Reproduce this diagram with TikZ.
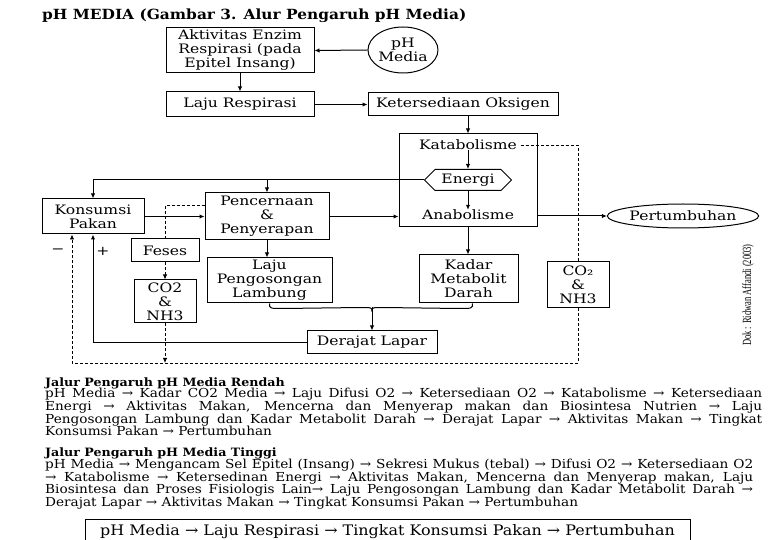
\documentclass[tikz,border=0pt]{standalone}
\usepackage{fontspec}
\setmainfont{DejaVu Serif}[FakeStretch=1.1]
\newfontfamily\boxfont{DejaVu Serif}[FakeStretch=1.2]
\newfontfamily\dokfont{Liberation Serif}[FakeStretch=0.68]
\usetikzlibrary{arrows.meta,shapes.geometric,shapes.symbols,calc}
\newcommand\jl[2]{\makebox[#1][s]{#2}}
\tikzset{
  box/.style={draw, line width=1pt, fill=white, align=center, inner sep=0pt,
    font=\boxfont\fontsize{13}{14}\selectfont},
  plain/.style={inner sep=0pt, align=center, font=\boxfont\fontsize{13}{14}\selectfont},
  arr/.style={line width=1pt, -{Latex[length=5pt,width=4.5pt]}},
  ln/.style={line width=1pt},
  dsh/.style={line width=0.8pt, dash pattern=on 3pt off 2pt},
  dsharr/.style={dsh, -{Latex[length=5pt,width=4.5pt]}},
  para/.style={anchor=base west, inner sep=0pt, font=\fontsize{12.4}{12.5}\selectfont},
  parahead/.style={anchor=base west, inner sep=0pt, font=\bfseries\fontsize{11.5}{12.5}\selectfont}
}
\begin{document}
\begin{tikzpicture}[x=1pt,y=-1pt]
\useasboundingbox (0,0) rectangle (780,540);
\clip (0,0) rectangle (780,540);
\fill[white] (0,0) rectangle (780,540);

% title
\node[anchor=west, inner sep=0pt, font=\bfseries\fontsize{14}{16}\selectfont] (title) at (42,16)
  {pH MEDIA (Gambar 3. Alur Pengaruh pH Media)};

% nodes
\node[box, minimum width=148pt, minimum height=45pt] (akt) at (240,50.5)
  {Aktivitas Enzim\\Respirasi (pada\\Epitel Insang)};
\node[box, ellipse, minimum width=68pt, minimum height=46pt] (ph) at (403,50) {pH\\Media};
\node[box, minimum width=148pt, minimum height=25pt] (laju) at (240,104.5) {Laju Respirasi};
\node[box, minimum width=190pt, minimum height=23pt] (ket) at (463,104.5) {Ketersediaan Oksigen};
\node[box, minimum width=138pt, minimum height=93pt] (big) at (468,180.5) {};
\node[plain] (kat) at (468,145) {Katabolisme};
\node[box, signal, signal to=west and east, minimum width=87pt, minimum height=21pt] (en) at (468,180) {Energi};
\node[plain] (ana) at (468,215) {Anabolisme};
\node[box, minimum width=102pt, minimum height=35pt] (kons) at (93,216.5) {Konsumsi\\Pakan};
\node[box, minimum width=124pt, minimum height=47pt] (pen) at (267,216.5) {Pencernaan\\\&\\Penyerapan};
\node[box, ellipse, minimum width=139pt, minimum height=24pt] (pert) at (683,216) {Pertumbuhan};
\node[box, minimum width=68pt, minimum height=23pt] (feses) at (165,250.5) {Feses};
\node[box, minimum width=62pt, minimum height=43pt] (co2a) at (165,301.5) {CO2\\\&\\NH3};
\node[box, minimum width=125pt, minimum height=45pt] (lpl) at (269.5,280.5) {Laju\\Pengosongan\\Lambung};
\node[box, minimum width=99pt, minimum height=48pt] (kmd) at (468.5,279) {Kadar\\Metabolit\\Darah};
\node[box, minimum width=62pt, minimum height=46pt] (co2b) at (578,285) {CO₂\\\&\\NH3};
\node[box, minimum width=130pt, minimum height=23pt] (dl) at (372,342.5) {Derajat Lapar};

\node[plain] (minus) at (58,251) {−};
\node[plain] (plus) at (103,251) {+};

\coordinate (dbl) at (72,363);
\coordinate (bj) at ($(dl.north)+(0,-23)$);

% connectors
\draw[arr] (ph.west) -- (akt.east);
\draw[arr] (akt.south) -- (laju.north);
\draw[arr] (laju.east) -- (ket.west);
\draw[arr] (ket.south -| big.north) -- (big.north);
\draw[arr] (kat.south) -- (en.north);
\draw[arr] (en.south) -- (ana.north);
\draw[arr] (en.west) -| (kons.north);
\draw[arr] (pen.north |- en.west) -- (pen.north);
\draw[arr] (kons.east |- pen.west) -- (pen.west);
\draw[arr] (pen.east) -- (big.west |- pen.east);
\draw[arr] (big.east |- pert.west) -- (pert.west);
\draw[arr] (pen.south) -- (pen.south |- lpl.north);
\draw[arr] (big.south) -- (big.south |- kmd.north);
\draw[ln] (lpl.south) .. controls ($(lpl.south)+(0,5)$) .. ($(lpl.south)+(14,5)$)
  -- ($(bj)+(-12,0)$) .. controls (bj) .. ($(bj)+(0,4)$);
\draw[ln] ($(kmd.south)+(4,0)$) .. controls ($(kmd.south)+(4,5)$) .. ($(kmd.south)+(-10,5)$)
  -- ($(bj)+(12,0)$) .. controls (bj) .. ($(bj)+(0,4)$);
\draw[arr] (bj) -- (dl.north);
\draw[arr] (dl.west) -| (kons.south);

% dashed connectors
\draw[dsh] ($(kat.east)+(4,0)$) -| (co2b.north);
\draw[dsharr] (co2b.south) |- (dbl) -- (dbl |- kons.south);
\draw[dsh] ($(pen.west)+(0,-11)$) -| (feses.north);
\draw[dsharr] (feses.south) -- (co2a.north);
\draw[dsharr] (co2a.south) -- (co2a.south |- dbl);

% credit
\node[rotate=90, inner sep=0pt, font=\dokfont\fontsize{12.5}{13}\selectfont] (dok) at (748,295)
  {Dok : Ridwan Affandi (2003)};

% paragraphs
\node[parahead] (r0) at (45,387) {Jalur Pengaruh pH Media Rendah};
\node[para] (r1) at (45,398) {\jl{717pt}{pH Media → Kadar CO2 Media → Laju Difusi O2 → Ketersediaan O2 → Katabolisme → Ketersediaan}};
\node[para] (r2) at (45,410.5) {\jl{717pt}{Energi → Aktivitas Makan, Mencerna dan Menyerap makan dan Biosintesa Nutrien → Laju}};
\node[para] (r3) at (45,423) {\jl{717pt}{Pengosongan Lambung dan Kadar Metabolit Darah → Derajat Lapar → Aktivitas Makan → Tingkat}};
\node[para] (r4) at (45,435.5) {Konsumsi Pakan → Pertumbuhan};

\node[parahead] (t0) at (45,456) {Jalur Pengaruh pH Media Tinggi};
\node[para] (t1) at (45,468) {\jl{708pt}{pH Media → Mengancam Sel Epitel (Insang) → Sekresi Mukus (tebal) → Difusi O2 → Ketersediaan O2}};
\node[para] (t2) at (45,481) {\jl{708pt}{→ Katabolisme → Ketersedinan Energi → Aktivitas Makan, Mencerna dan Menyerap makan, Laju}};
\node[para] (t3) at (45,493.5) {\jl{708pt}{Biosintesa dan Proses Fisiologis Lain→ Laju Pengosongan Lambung dan Kadar Metabolit Darah →}};
\node[para] (t4) at (45,506) {Derajat Lapar → Aktivitas Makan → Tingkat Konsumsi Pakan → Pertumbuhan};

\node[draw, line width=1pt, minimum width=605pt, minimum height=26pt, inner sep=0pt,
  font=\fontsize{14.5}{16}\selectfont] (sum) at (387.5,532)
  {pH Media → Laju Respirasi → Tingkat Konsumsi Pakan → Pertumbuhan};
\end{tikzpicture}
\end{document}
